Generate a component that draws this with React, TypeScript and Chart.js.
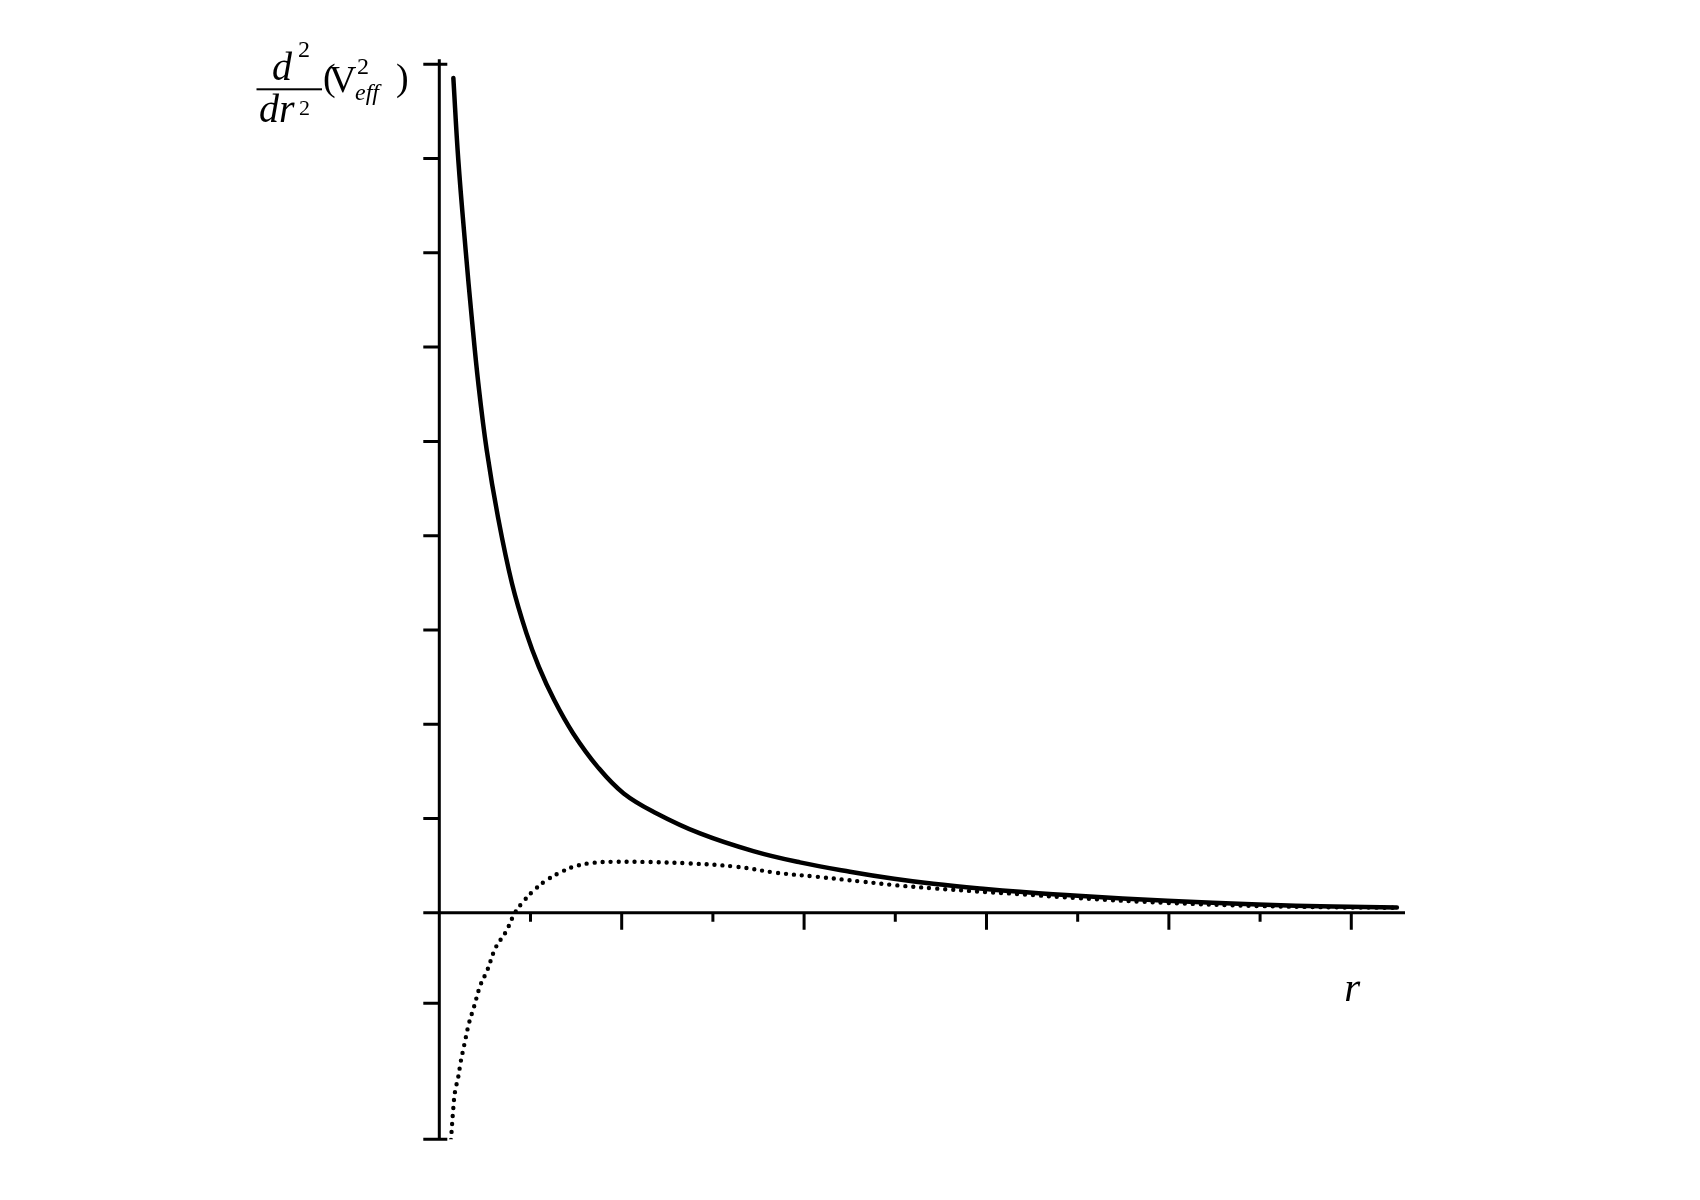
import React, { useEffect, useRef } from "react";
import { Chart, registerables } from "chart.js";

Chart.register(...registerables);

// ---- data ----
const solidR = [0.154, 0.208, 0.289, 0.355, 0.428, 0.52, 0.643, 0.797, 0.956, 1.092, 1.26, 1.468, 1.736, 2.022, 2.384, 2.859, 3.443, 3.955, 4.503, 4.986, 5.417, 5.991, 6.367, 7.0, 7.982, 8.98, 9.8, 10.5];
const solidValues = [8.855, 7.99, 7.028, 6.32, 5.614, 4.907, 4.199, 3.493, 2.963, 2.609, 2.256, 1.902, 1.548, 1.266, 1.054, 0.842, 0.654, 0.534, 0.435, 0.36, 0.307, 0.252, 0.222, 0.18, 0.128, 0.088, 0.066, 0.055];

const dottedR = [0.128, 0.154, 0.172, 0.208, 0.235, 0.274, 0.326, 0.38, 0.45, 0.526, 0.618, 0.731, 0.83, 0.929, 1.049, 1.178, 1.342, 1.496, 1.689, 1.945, 2.31, 2.735, 3.261, 3.7, 4.138, 4.649, 5.015, 5.417, 5.991, 6.331, 7.0, 7.982, 8.98, 9.8, 10.5];
const dottedValues = [-2.41, -2.07, -1.9, -1.74, -1.58, -1.4, -1.17, -1.0, -0.77, -0.61, -0.37, -0.2, 0, 0.127, 0.248, 0.347, 0.435, 0.495, 0.53, 0.541, 0.538, 0.524, 0.488, 0.424, 0.382, 0.329, 0.291, 0.259, 0.22, 0.2, 0.155, 0.105, 0.072, 0.058, 0.053];

const xRange = [0, 10.589];
const yRange = [-2.403, 9];
const xTickValues = [1, 2, 3, 4, 5, 6, 7, 8, 9, 10];
const xMajorTickValues = [2, 4, 6, 8, 10];
const yTickValues = [-0.96, 0, 1, 2, 3, 4, 5, 6, 7, 8];
const yEndTickValues = [-2.403, 9];
const xAxisLabel = "r";

const serif = '"Liberation Serif", "DejaVu Serif", serif';

const axesPlugin = {
  id: "crossAxes",
  beforeDatasetsDraw(chart: any) {
    const { ctx } = chart;
    const xs = chart.scales.x;
    const ys = chart.scales.y;
    const x0 = xs.getPixelForValue(0);
    const y0 = ys.getPixelForValue(0);
    ctx.save();
    ctx.strokeStyle = "#000";
    ctx.lineWidth = 3;
    ctx.lineCap = "butt";
    ctx.beginPath();
    ctx.moveTo(x0, ys.getPixelForValue(yRange[1]) - 5);
    ctx.lineTo(x0, ys.getPixelForValue(yRange[0]) + 1);
    ctx.moveTo(x0, y0);
    ctx.lineTo(xs.getPixelForValue(xRange[1]), y0);
    for (const v of yTickValues) {
      const p = ys.getPixelForValue(v);
      ctx.moveTo(x0 - 16, p);
      ctx.lineTo(x0, p);
    }
    for (const v of yEndTickValues) {
      const p = ys.getPixelForValue(v);
      ctx.moveTo(x0 - 16, p);
      ctx.lineTo(x0 + 8, p);
    }
    for (const v of xTickValues) {
      const p = xs.getPixelForValue(v);
      const len = xMajorTickValues.includes(v) ? 17 : 9;
      ctx.moveTo(p, y0);
      ctx.lineTo(p, y0 + len);
    }
    ctx.stroke();
    ctx.restore();
  },
  afterDraw(chart: any) {
    const { ctx } = chart;
    const xs = chart.scales.x;
    ctx.save();
    ctx.fillStyle = "#000";
    ctx.textBaseline = "alphabetic";
    ctx.font = `italic 41px ${serif}`;
    ctx.textAlign = "center";
    ctx.fillText(xAxisLabel, xs.getPixelForValue(10) + 1, 1001);
    ctx.textAlign = "left";
    ctx.font = `italic 40px ${serif}`;
    ctx.fillText("d", 272, 80);
    ctx.fillText("dr", 259, 121.5);
    ctx.font = `24px ${serif}`;
    ctx.fillText("2", 298, 57);
    ctx.font = `22px ${serif}`;
    ctx.fillText("2", 299, 115);
    ctx.fillRect(256.5, 88.3, 65.5, 2);
    ctx.font = `38px ${serif}`;
    ctx.fillText("(", 323, 90);
    ctx.fillText("V", 329, 91.5);
    ctx.fillText(")", 396, 90);
    ctx.font = `24px ${serif}`;
    ctx.fillText("2", 357, 73.5);
    ctx.font = `italic 24px ${serif}`;
    ctx.fillText("eff", 355, 100);
    ctx.restore();
  },
};

export default function App() {
  const canvasRef = useRef<HTMLCanvasElement | null>(null);

  useEffect(() => {
    if (!canvasRef.current) return;
    const chart = new Chart(canvasRef.current, {
      type: "line",
      data: {
        datasets: [
          {
            label: "solid",
            data: solidR.map((r, i) => ({ x: r, y: solidValues[i] })),
            borderColor: "#000",
            borderWidth: 4.5,
            borderCapStyle: "round",
            borderJoinStyle: "round",
            tension: 0.4,
            pointRadius: 0,
            fill: false,
          },
          {
            label: "dotted",
            data: dottedR.map((r, i) => ({ x: r, y: dottedValues[i] })),
            borderColor: "#000",
            borderWidth: 4.4,
            borderCapStyle: "round",
            borderDash: [0, 8],
            tension: 0.4,
            pointRadius: 0,
            fill: false,
          },
        ],
      },
      options: {
        animation: false,
        responsive: false,
        maintainAspectRatio: false,
        devicePixelRatio: 1,
        layout: { padding: { left: 439.3, right: 295, top: 64.3, bottom: 60.7 } },
        plugins: { legend: { display: false }, tooltip: { enabled: false } },
        scales: {
          x: { type: "linear", min: xRange[0], max: xRange[1], display: false },
          y: { type: "linear", min: yRange[0], max: yRange[1], display: false },
        },
      },
      plugins: [axesPlugin],
    } as any);
    return () => chart.destroy();
  }, []);

  return (
    <div style={{ position: "absolute", left: 0, top: 0, width: 1700, height: 1200, background: "#fff" }}>
      <canvas ref={canvasRef} width={1700} height={1200} style={{ width: 1700, height: 1200 }} />
    </div>
  );
}
